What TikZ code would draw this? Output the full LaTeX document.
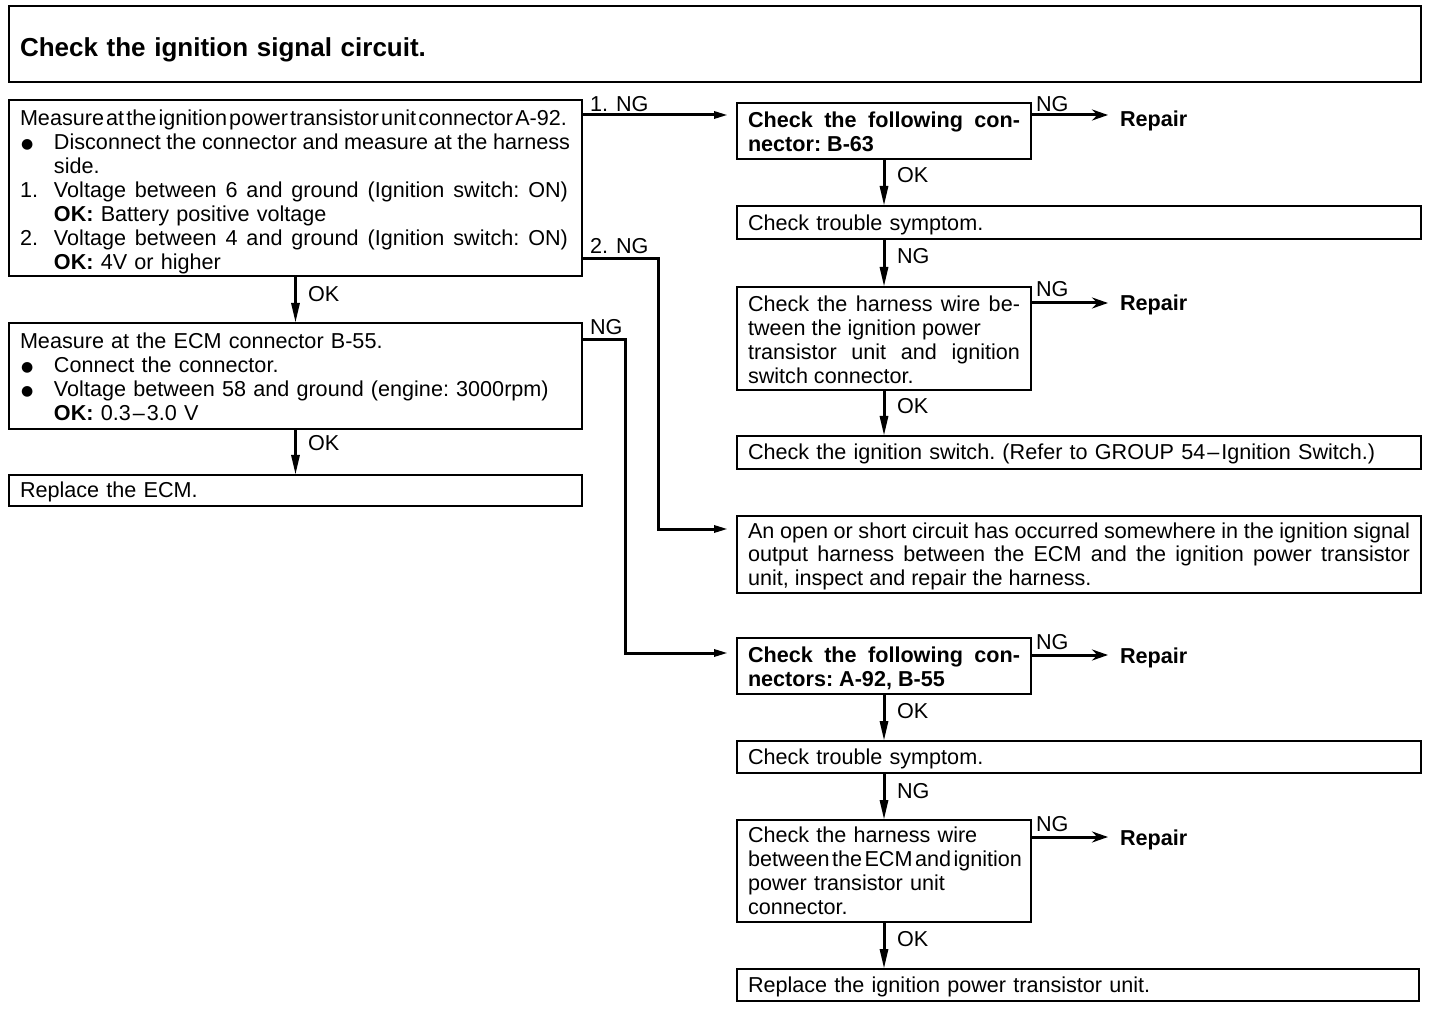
\documentclass[tikz,border=0pt]{standalone}
\usepackage{fontspec}
\usepackage{graphicx}
\setmainfont{Liberation Sans}
\newfontfamily\dejavu{DejaVu Sans}
\usetikzlibrary{arrows.meta,calc}
\newcommand\drawbox[5]{\node[box, minimum width={(#4-#2)*0.5}, minimum height={(#5-#3)*0.5}] (#1) at ({(#2+#4)/2},{(#3+#5)/2}) {};}
\newcommand\bul{\makebox[17pt][l]{\hspace*{0.5pt}\raisebox{0.8pt}{\dejavu\fontsize{7}{7}\selectfont ●}}}
\newcommand\ind{\hspace*{17pt}}
\newcommand\squish[2]{\leavevmode\hbox to #1{\spaceskip=0.3pt plus 6pt minus 0.2pt\relax #2}}
\begin{document}
\begin{tikzpicture}[x=0.5pt,y=-0.5pt,
 box/.style={draw, line width=1.3pt, inner sep=0pt, outer sep=0pt},
 txt/.style={inner sep=0pt, outer sep=0pt, anchor=base west, font=\fontsize{10.8}{12}\selectfont\frenchspacing},
 lbl/.style={inner sep=0pt, outer sep=0pt, anchor=base west, font=\fontsize{10.8}{12}\selectfont},
 rep/.style={lbl, font=\fontsize{10.8}{12}\selectfont\bfseries},
 conn/.style={line width=1.5pt},
 varr/.style={conn, -{Triangle[length=10pt,width=4pt]}},
 harr/.style={conn, -{Triangle[length=7pt,width=3.5pt]}, shorten >=4.5pt},
 rarr/.style={conn, -{Stealth[length=8pt,width=5.5pt]}, shorten >=6pt},
]
\useasboundingbox (0,0) rectangle (1440,1010);

% title
\drawbox{T}{9}{6}{1421}{82}
\node[txt, font=\fontsize{13}{15}\selectfont\bfseries, text width=300pt, align=left] (Tt) at (20,57) {Check the ignition signal circuit.};

% left column
\drawbox{A}{9}{100}{582}{276}
\node[txt, text width=290pt, align=left] (At) at (20,126) {\squish{273.5pt}{Measure at the ignition power transistor unit connector A-92.}\\
\bul\squish{258pt}{Disconnect the connector and measure at the harness}\\
\ind side.\\
\makebox[17pt][l]{1.}\squish{257pt}{Voltage between 6 and ground (Ignition switch: ON)}\\
\ind\textbf{OK:} Battery positive voltage\\
\makebox[17pt][l]{2.}\squish{257pt}{Voltage between 4 and ground (Ignition switch: ON)}\\
\ind\textbf{OK:} 4V or higher};

\drawbox{G}{9}{323}{582}{429}
\node[txt, text width=290pt, align=left] (Gt) at (20,349) {Measure at the ECM connector B-55.\\
\bul Connect the connector.\\
\bul Voltage between 58 and ground (engine: 3000rpm)\\
\ind\textbf{OK:} 0.3\kern1pt--\kern1pt3.0 V};

\drawbox{L}{9}{475}{582}{506}
\node[txt, text width=290pt, align=left] (Lt) at (20,497) {Replace the ECM.};

% right column, first branch
\drawbox{B}{737}{103}{1031}{159}
\node[txt, text width=136pt, align=justify, font=\fontsize{10.8}{12}\selectfont\bfseries\frenchspacing] (Bt) at (748,128) {Check the following con-\linebreak nector: B-63};

\drawbox{C}{737}{206}{1421}{239}
\node[txt, text width=330pt, align=left] (Ct) at (748,231) {Check trouble symptom.};

\drawbox{D}{737}{287}{1031}{390}
\node[txt, text width=136pt, align=justify] (Dt) at (748,312) {Check the harness wire be-\linebreak tween the ignition power\newline transistor unit and ignition\linebreak switch connector.};

\drawbox{E}{737}{436}{1421}{469}
\node[txt, text width=330pt, align=left] (Et) at (748,459) {Check the ignition switch. (Refer to GROUP 54\kern1pt--\kern1pt Ignition Switch.)};

\drawbox{F}{737}{516}{1421}{593}
\node[txt, text width=331pt, align=justify] (Ft) at (748,538) {An open or short circuit has occurred somewhere in the ignition signal\linebreak output harness between the ECM and the ignition power transistor\linebreak unit, inspect and repair the harness.};

% right column, second branch
\drawbox{H}{737}{638}{1031}{694}
\node[txt, text width=136pt, align=justify, font=\fontsize{10.8}{12}\selectfont\bfseries\frenchspacing] (Ht) at (748,662) {Check the following con-\linebreak nectors: A-92, B-55};

\drawbox{I}{737}{741}{1421}{773}
\node[txt, text width=330pt, align=left] (It) at (748,764) {Check trouble symptom.};

\drawbox{J}{737}{820}{1031}{922}
\node[txt, text width=150pt, align=left] (Jt) at (748,842) {Check the harness wire\\
\squish{137pt}{between the ECM and ignition}\\
power transistor unit\\
connector.};

\drawbox{K}{737}{969}{1419}{1001}
\node[txt, text width=330pt, align=left] (Kt) at (748,992) {Replace the ignition power transistor unit.};

% repair labels
\node[rep] (r1) at (1120,127) {Repair};
\node[rep] (r2) at (1120,311) {Repair};
\node[rep] (r3) at (1120,663) {Repair};
\node[rep] (r4) at (1120,845) {Repair};

% connector labels
\node[lbl] (l1) at (590,112) {1. NG};
\node[lbl] (l2) at (590,254) {2. NG};
\node[lbl] (l3) at (308,302) {OK};
\node[lbl] (l4) at (308,451) {OK};
\node[lbl] (l5) at (590,335) {NG};
\node[lbl] (l6) at (897,183) {OK};
\node[lbl] (l7) at (897,264) {NG};
\node[lbl] (l8) at (897,414) {OK};
\node[lbl] (l9) at (897,718) {OK};
\node[lbl] (l10) at (897,798) {NG};
\node[lbl] (l11) at (897,946) {OK};
\node[lbl] (n1) at (1036,112) {NG};
\node[lbl] (n2) at (1036,297) {NG};
\node[lbl] (n3) at (1036,649) {NG};
\node[lbl] (n4) at (1036,831) {NG};

% vertical arrows
\draw[varr] (A.south) -- (G.north);
\draw[varr] (G.south) -- (L.north);
\draw[varr] (B.south) -- (B.south |- C.north);
\draw[varr] (B.south |- C.south) -- (D.north);
\draw[varr] (D.south) -- (D.south |- E.north);
\draw[varr] (H.south) -- (H.south |- I.north);
\draw[varr] (H.south |- I.south) -- (J.north);
\draw[varr] (J.south) -- (J.south |- K.north);

% horizontal branches
\draw[harr] ([yshift=-7.5pt]A.north east) -- ([yshift=-7.5pt]A.north east -| B.west);
\coordinate (j2) at (658,529);
\draw[harr] ([yshift=8.5pt]A.south east) -| (j2) -- (j2 -| F.west);
\coordinate (j3) at (625,653);
\draw[harr] ([yshift=-8.5pt]G.north east) -| (j3) -- (j3 -| H.west);

% repair arrows
\draw[rarr] ([yshift=-6pt]B.north east) -- ([yshift=-6pt]B.north east -| r1.west);
\draw[rarr] ([yshift=-8pt]D.north east) -- ([yshift=-8pt]D.north east -| r2.west);
\draw[rarr] ([yshift=-8.5pt]H.north east) -- ([yshift=-8.5pt]H.north east -| r3.west);
\draw[rarr] ([yshift=-8.5pt]J.north east) -- ([yshift=-8.5pt]J.north east -| r4.west);
\end{tikzpicture}
\end{document}
